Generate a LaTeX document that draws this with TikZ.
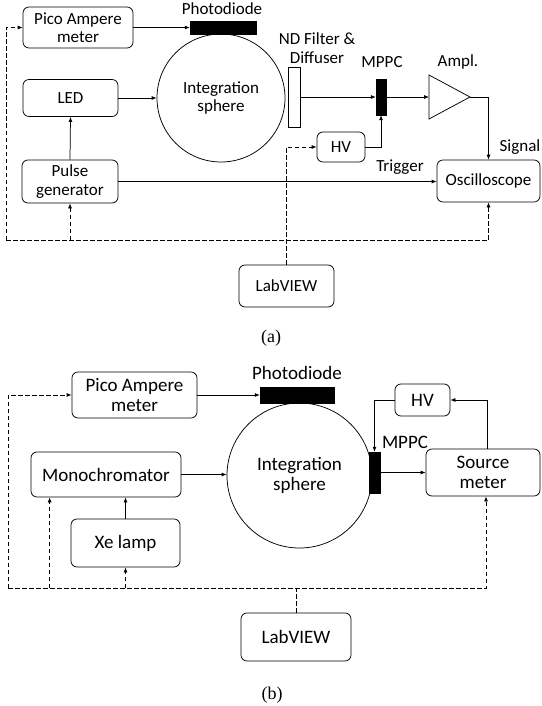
\documentclass[tikz,border=0pt]{standalone}
\usepackage{fontspec}
\setmainfont{Carlito}
\newfontfamily\capfont{Liberation Serif}
\usetikzlibrary{arrows.meta,calc}
\begin{document}
\begin{tikzpicture}[x=1pt,y=-1pt,
  every node/.style={font=\fontsize{17}{18.5}\selectfont},
  fb/.style={font=\fontsize{19}{20.5}\selectfont},
  box/.style={draw, rounded corners=6pt, line width=0.75pt, align=center, inner sep=0pt},
  blk/.style={fill=black, draw=black, inner sep=0pt},
  sph/.style={draw, circle, line width=0.75pt, inner sep=0pt, align=center},
  lbl/.style={inner sep=0pt, align=center},
  arr/.style={-{Latex[length=5pt,width=4pt]}, line width=0.75pt},
  dsh/.style={line width=0.75pt, dash pattern=on 4.5pt off 2.5pt},
  dsharr/.style={dsh, -{Latex[length=5pt,width=4pt]}},
  captxt/.style={inner sep=0pt, font=\capfont\fontsize{18}{20}\selectfont}]
\useasboundingbox (0,0) rectangle (541,706);

% ---------------- (a) ----------------
\node[box, minimum width=110pt, minimum height=41pt] (pico) at (78,27.5) {Pico Ampere\\meter};
\node[blk, minimum width=66pt, minimum height=13pt] (pd) at (223,27.5) {};
\node[lbl] (pdl) at (222,9) {Photodiode};
\node[box, minimum width=95pt, minimum height=37pt] (led) at (70.5,98) {LED};
\node[sph, minimum size=128pt] (sphere) at (221,98) {Integration\\sphere};
\node[draw, line width=0.75pt, fill=white, minimum width=12pt, minimum height=60pt, inner sep=0pt] (nd) at (294,97) {};
\node[lbl] (ndl) at (317,48) {ND Filter \&\\Diffuser};
\node[blk, minimum width=10pt, minimum height=36pt] (mppc) at (381,97) {};
\node[lbl] (mppcl) at (382,62) {MPPC};
\coordinate (ampin) at (429,97);
\coordinate (ampout) at (470,97);
\draw[line width=0.75pt] (429,75) -- (ampout) -- (429,119) -- cycle;
\node[lbl] (ampl) at (458,62) {Ampl.};
\node[box, minimum width=48pt, minimum height=30pt] (hv) at (341,147) {HV};
\node[box, minimum width=96pt, minimum height=43pt] (pulse) at (70,181.5) {Pulse\\generator};
\node[box, minimum width=103pt, minimum height=42pt] (osc) at (488.5,181) {Oscilloscope};
\node[box, minimum width=95pt, minimum height=42pt] (lv) at (286.5,286) {LabVIEW};
\node[lbl] (sig) at (520,147) {Signal};
\node[lbl] (trig) at (400,167) {Trigger};
\coordinate (bl) at (6,240);

\draw[arr] (pico.east) -- (pd.west);
\draw[arr] (led.east) -- (led.east -| sphere.west);
\draw[arr] (nd.east) -- (mppc.west);
\draw[arr] (mppc.east) -- (ampin);
\draw[arr] (ampout) -| (osc.north);
\draw[arr] (hv.east) -| (mppc.south);
\draw[arr] (pulse.north) -- (led.south);
\draw[arr] (pulse.east) -- (pulse.east -| osc.west);
\draw[dsharr] (lv.north) |- (hv.west);
\draw[dsharr] (bl) |- (pico.west);
\draw[dsharr] (bl) -| (osc.south);
\draw[dsharr] (pulse.south |- bl) -- (pulse.south);
\node[captxt] (capa) at (271,338) {(a)};

% ---------------- (b) ----------------
\node[box, fb, minimum width=125pt, minimum height=46pt] (pico2) at (134.5,395) {Pico Ampere\\meter};
\node[blk, minimum width=74pt, minimum height=16pt] (pd2) at (297,395) {};
\node[lbl, fb] (pdl2) at (297,373) {Photodiode};
\node[box, fb, minimum width=150pt, minimum height=45pt] (mono) at (106,474.5) {Monochromator};
\node[sph, fb, minimum size=145pt] (sphere2) at (299.5,475.5) {Integration\\sphere};
\node[blk, minimum width=11pt, minimum height=41pt] (mppc2) at (374.5,472.5) {};
\node[lbl, fb] (mppcl2) at (405,442) {MPPC};
\node[box, fb, minimum width=114pt, minimum height=47pt] (src) at (483,472.5) {Source\\meter};
\node[box, fb, minimum width=55pt, minimum height=32pt] (hv2) at (422.5,400) {HV};
\node[box, fb, minimum width=109pt, minimum height=48pt] (xe) at (125.5,543) {Xe lamp};
\node[box, fb, minimum width=110pt, minimum height=48pt] (lv2) at (296,637) {LabVIEW};
\coordinate (bl2) at (8,588);
\coordinate (mtap) at ($(mono.south west)+(19,0)$);

\draw[arr] (pico2.east) -- (pd2.west);
\draw[arr] (mono.east) -- (mono.east -| sphere2.west);
\draw[arr] (mppc2.east) -- (src.west);
\draw[arr] ($(src.north)+(4,0)$) |- (hv2.east);
\draw[arr] (hv2.west) -| (mppc2.north);
\draw[arr] (xe.north) -- (xe.north |- mono.south);
\draw[dsharr] (bl2) |- (pico2.west);
\draw[dsharr] (bl2) -| ($(src.south)+(3,0)$);
\draw[dsharr] (mtap |- bl2) -- (mtap);
\draw[dsharr] (xe.south |- bl2) -- (xe.south);
\draw[dsh] (lv2.north) -- (lv2.north |- bl2);
\node[captxt] (capb) at (272,695) {(b)};
\end{tikzpicture}
\end{document}
